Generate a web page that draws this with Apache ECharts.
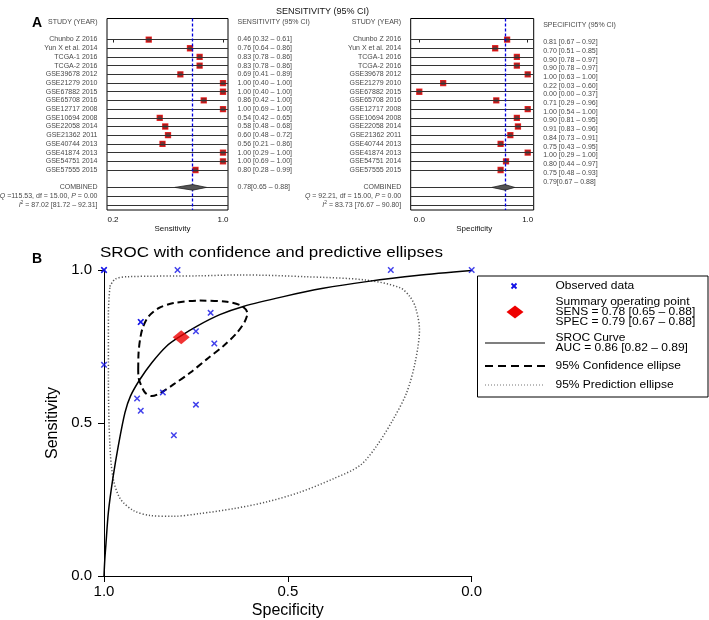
<!DOCTYPE html>
<html><head><meta charset="utf-8">
<script src="https://cdn.jsdelivr.net/npm/echarts@6/dist/echarts.min.js"></script>
<style>html,body{margin:0;padding:0;background:#fff}#c{width:709px;height:620px}</style>
</head><body><div id="c"></div>
<script>
// ---------------- DATA ----------------
const studies = ['Chunbo Z 2016','Yun X et al. 2014','TCGA-1 2016','TCGA-2 2016','GSE39678 2012','GSE21279 2010','GSE67882 2015','GSE65708 2016','GSE12717 2008','GSE10694 2008','GSE22058 2014','GSE21362 2011','GSE40744 2013','GSE41874 2013','GSE54751 2014','GSE57555 2015'];
const sens   = [0.46,0.76,0.83,0.83,0.69,1.00,1.00,0.86,1.00,0.54,0.58,0.60,0.56,1.00,1.00,0.80];
const sensLo = [0.32,0.64,0.78,0.78,0.41,0.40,0.40,0.42,0.69,0.42,0.48,0.48,0.21,0.29,0.69,0.28];
const sensHi = [0.61,0.86,0.86,0.86,0.89,1.00,1.00,1.00,1.00,0.65,0.68,0.72,0.86,1.00,1.00,0.99];
const spec   = [0.81,0.70,0.90,0.90,1.00,0.22,0.00,0.71,1.00,0.90,0.91,0.84,0.75,1.00,0.80,0.75];
const specLo = [0.67,0.51,0.78,0.78,0.63,0.03,0.00,0.29,0.54,0.81,0.83,0.73,0.43,0.29,0.44,0.48];
const specHi = [0.92,0.85,0.97,0.97,1.00,0.60,0.37,0.96,1.00,0.95,0.96,0.91,0.95,1.00,0.97,0.93];
const pooledSens = [0.78,0.65,0.88];
const pooledSpec = [0.79,0.67,0.88];
const sensQ  = [115.53,15.00,0.00];
const sensI2 = [87.02,81.72,92.31];
const specQ  = [92.21,15.00,0.00];
const specI2 = [83.73,76.67,90.80];
const auc    = [0.86,0.82,0.89];
const forestTicksSens = [0.2,1.0];
const forestTicksSpec = [0.0,1.0];
// SROC curve
const curveSpec = [1.000,0.998,0.995,0.988,0.976,0.961,0.943,0.928,0.902,0.870,0.830,0.793,0.748,0.685,0.621,0.512,0.404,0.286,0.150,0.000];
const curveSens = [0.000,0.050,0.100,0.209,0.318,0.426,0.534,0.588,0.643,0.697,0.751,0.783,0.816,0.854,0.881,0.913,0.940,0.962,0.982,0.998];
// 95% confidence ellipse
const confSpec = [0.907,0.906,0.902,0.895,0.879,0.852,0.811,0.739,0.666,0.626,0.610,0.617,0.639,0.676,0.721,0.766,0.811,0.848,0.870,0.888,0.900,0.906];
const confSens = [0.675,0.729,0.772,0.810,0.848,0.875,0.892,0.900,0.896,0.883,0.859,0.832,0.794,0.751,0.708,0.664,0.626,0.597,0.588,0.599,0.626,0.648];
// 95% prediction ellipse
const predSpec = [0.984,0.970,0.938,0.739,0.630,0.449,0.286,0.195,0.168,0.152,0.142,0.154,0.177,0.213,0.258,0.304,0.376,0.467,0.558,0.648,0.739,0.812,0.875,0.920,0.956,0.975,0.984,0.988,0.988];
const predSens = [0.946,0.970,0.978,0.981,0.984,0.978,0.967,0.942,0.913,0.875,0.805,0.697,0.599,0.513,0.426,0.361,0.318,0.274,0.242,0.220,0.204,0.195,0.198,0.214,0.253,0.318,0.426,0.643,0.859];

// ---------------- LAYOUT / HELPERS ----------------
const FONT = '"Liberation Sans", Arial, Helvetica, sans-serif';
const fx0 = {min:0.1564, max:1.0364};
const fx1 = {min:-0.0793, max:1.0553};
const rowMin = -2.42, rowMax = 19.6;
const headRow = -2, combRow = 17, qRow = 18, i2Row = 19;
const lineRows = studies.map((s,i)=>i).concat([combRow,qRow,i2Row]);
const BLUE = '#1010e6';
const SQ = 0.84; // vertical squash of text in panel B

function ciText(v,lo,hi,sep){ return v.toFixed(2)+sep+'['+lo.toFixed(2)+' – '+hi.toFixed(2)+']'; }
function qText(q){ return '{i|Q} ='+q[0].toFixed(2).padStart(6,' ')+', df = '+q[1].toFixed(2)+', {i|P} = '+q[2].toFixed(2); }
function i2Text(a){ return '{i|I}{s|2} = '+a[0].toFixed(2)+' ['+a[1].toFixed(2)+' – '+a[2].toFixed(2)+']'; }
function closeLoop(xs,ys){ const d = xs.map((x,i)=>[x,ys[i]]); d.push(d[0]); return d; }

const rich = {
  i:{fontStyle:'italic', fontSize:7, fontFamily:FONT, color:'#111'},
  s:{fontSize:5, fontFamily:FONT, color:'#111', padding:[0,0,4,0]}
};

function textSeries(gi, xval, items, pos, dist, offY){
  return {
    type:'scatter', xAxisIndex:gi, yAxisIndex:gi, symbolSize:1, clip:false, silent:true, z:5,
    itemStyle:{color:'rgba(0,0,0,0)'},
    data: items.map(it=>{ const o = {value:[xval,it[1]], name:it[0]}; if (it[2]!==undefined) o.label={offset:[0,it[2]]}; return o; }),
    label:{show:true, position:pos, distance:dist, formatter:p=>p.name, fontSize:7, color:'#111', fontFamily:FONT, offset:[0,offY], rich:rich}
  };
}

function forestSeries(gi, fx, vals, los, his, pooled, q, i2, header, rightOff, combOff){
  const left = [['STUDY (YEAR)',headRow]].concat(studies.map((s,i)=>[s,i]))
      .concat([['COMBINED',combRow],[qText(q),qRow],[i2Text(i2),i2Row]]);
  const right = [[header+' (95% CI)',headRow]].concat(vals.map((v,i)=>[ciText(v,los[i],his[i],' '),i]))
      .concat([[ciText(pooled[0],pooled[1],pooled[2],''),combRow,combOff]]);
  const sl = textSeries(gi, fx.min, left, 'left', 9, 0);
  sl.markLine = {silent:true, symbol:['none','none'], label:{show:false}, animation:false,
    lineStyle:{color:'#333', width:1, type:'solid'}, data: lineRows.map(r=>({yAxis:r}))};
  const sr = textSeries(gi, fx.max, right, 'right', 9, rightOff);
  const sq = {
    type:'scatter', xAxisIndex:gi, yAxisIndex:gi, symbol:'rect', symbolSize:5, z:4, silent:true,
    itemStyle:{color:'#5a0000', borderColor:'#e00000', borderWidth:1.3},
    data: vals.map((v,i)=>[v,i]),
    markLine:{silent:true, symbol:['none','none'], label:{show:false}, animation:false,
      lineStyle:{color:'#0000dd', width:1.3, type:[3,2]}, data:[{xAxis:pooled[0]}]}
  };
  const dm = {
    type:'custom', xAxisIndex:gi, yAxisIndex:gi, z:6, silent:true,
    data:[[pooled[1],pooled[0],pooled[2],combRow]],
    renderItem:(params,api)=>{
      const lo=api.value(0), est=api.value(1), hi=api.value(2), r=api.value(3);
      return {type:'polygon', shape:{points:[api.coord([lo,r]),api.coord([est,r-0.32]),api.coord([hi,r]),api.coord([est,r+0.32])]},
        style:{fill:'#555', stroke:'#222', lineWidth:0.8}};
    }
  };
  return [sl,sr,sq,dm];
}

function forestX(gi, fx, ticks, name, pad){
  return {gridIndex:gi, type:'value', min:fx.min, max:fx.max,
    axisLine:{show:false}, splitLine:{show:false},
    axisTick:{show:true, length:3, customValues:ticks, lineStyle:{color:'#222'}},
    axisLabel:{show:true, customValues:ticks, fontSize:8, color:'#111', fontFamily:FONT, margin:6, formatter:v=>v.toFixed(1)},
    name:name, nameLocation:'middle', nameGap:13, nameTextStyle:{fontSize:8, color:'#111', fontFamily:FONT, padding:pad}};
}
function forestY(gi){
  return {gridIndex:gi, type:'value', inverse:true, min:rowMin, max:rowMax, show:false};
}

// ---------------- CHART ----------------
const chart = echarts.init(document.getElementById('c'), null, {renderer:'canvas'});

const axisCommon = {
  type:'value', min:0, max:1, interval:0.5,
  axisLine:{show:true, onZero:false, lineStyle:{color:'#000', width:1}},
  axisTick:{show:true, length:6, lineStyle:{color:'#000', width:1}},
  splitLine:{show:false},
  nameLocation:'middle', nameTextStyle:{fontSize:16, color:'#000', fontFamily:FONT}
};

const XPATH = 'path://M0,1.6 L1.6,0 L5,3.4 L8.4,0 L10,1.6 L6.6,5 L10,8.4 L8.4,10 L5,6.6 L1.6,10 L0,8.4 L3.4,5 Z';

const series = []
  .concat(forestSeries(0, fx0, sens, sensLo, sensHi, pooledSens, sensQ, sensI2, 'SENSITIVITY', 0, 0))
  .concat(forestSeries(1, fx1, spec, specLo, specHi, pooledSpec, specQ, specI2, 'SPECIFICITY', 2.7, -5.7))
  .concat([
    {type:'line', xAxisIndex:2, yAxisIndex:2, data:closeLoop(predSpec,predSens), symbol:'none', smooth:0.3, silent:true, z:2,
      lineStyle:{color:'#555', width:1.5, type:[1.2,2]}},
    {type:'line', xAxisIndex:2, yAxisIndex:2, data:closeLoop(confSpec,confSens), symbol:'none', smooth:0.3, silent:true, z:3,
      lineStyle:{color:'#000', width:2, type:[7,4]}},
    {type:'line', xAxisIndex:2, yAxisIndex:2, data:curveSpec.map((x,i)=>[x,curveSens[i]]), symbol:'none', smooth:0.3, silent:true, z:3,
      lineStyle:{color:'#000', width:1.5}},
    {type:'scatter', xAxisIndex:2, yAxisIndex:2, data:spec.map((x,i)=>[x,sens[i]]), clip:false, silent:true, z:5,
      symbol:XPATH, symbolSize:6.5, itemStyle:{color:BLUE}},
    {type:'scatter', xAxisIndex:2, yAxisIndex:2, data:[[pooledSpec[0],pooledSens[0]]], silent:true, z:6,
      symbol:'diamond', symbolSize:[17,14], itemStyle:{color:'#ee0000'}}
  ]);

const legX = 477.5, legY = 276;
function legText(y, t){ return {type:'text', x:555.5, y:y, scaleY:SQ, z:11, style:{text:t, fontSize:12, fontFamily:FONT, fill:'#000', verticalAlign:'middle'}}; }
const graphic = [
  {type:'text', x:32, y:23, style:{text:'A', fontSize:14, fontWeight:'bold', fontFamily:FONT, fill:'#000', verticalAlign:'middle'}},
  {type:'text', x:322.5, y:12, style:{text:'SENSITIVITY (95% CI)', fontSize:9, fontFamily:FONT, fill:'#111', align:'center', verticalAlign:'middle'}},
  {type:'text', x:32, y:259, style:{text:'B', fontSize:14, fontWeight:'bold', fontFamily:FONT, fill:'#000', verticalAlign:'middle'}},
  {type:'text', x:100, y:253, scaleY:SQ, style:{text:'SROC with confidence and predictive ellipses', fontSize:17, fontFamily:FONT, fill:'#000', verticalAlign:'middle'}},
  // legend
  {type:'rect', shape:{x:legX, y:legY, width:230.5, height:121}, style:{fill:'#fff', stroke:'#000', lineWidth:1}, z:10},
  {type:'line', shape:{x1:511.5, y1:283.5, x2:516.5, y2:288.5}, style:{stroke:BLUE, lineWidth:1.8}, z:11},
  {type:'line', shape:{x1:516.5, y1:283.5, x2:511.5, y2:288.5}, style:{stroke:BLUE, lineWidth:1.8}, z:11},
  legText(286, 'Observed data'),
  {type:'polygon', shape:{points:[[506.5,312],[515,305.5],[523.5,312],[515,318.5]]}, style:{fill:'#ee0000'}, z:11},
  legText(302.7, 'Summary operating point'),
  legText(312.3, 'SENS = '+ciText(pooledSens[0],pooledSens[1],pooledSens[2],' ')),
  legText(322, 'SPEC = '+ciText(pooledSpec[0],pooledSpec[1],pooledSpec[2],' ')),
  {type:'line', shape:{x1:485, y1:343, x2:545, y2:343}, style:{stroke:'#000', lineWidth:1.2}, z:11},
  legText(338.3, 'SROC Curve'),
  legText(348.3, 'AUC = '+ciText(auc[0],auc[1],auc[2],' ')),
  {type:'line', shape:{x1:485, y1:366, x2:545, y2:366}, style:{stroke:'#000', lineWidth:2, lineDash:[8,5]}, z:11},
  legText(366, '95% Confidence ellipse'),
  {type:'line', shape:{x1:485, y1:385, x2:545, y2:385}, style:{stroke:'#777', lineWidth:1.2, lineDash:[1,2]}, z:11},
  legText(385, '95% Prediction ellipse')
];

chart.setOption({
  animation:false,
  backgroundColor:'#fff',
  textStyle:{fontFamily:FONT},
  grid:[
    {left:107, top:18.5, width:121, height:191.5, show:true, borderColor:'#000', borderWidth:1, backgroundColor:'transparent'},
    {left:410.7, top:18.5, width:123, height:191.5, show:true, borderColor:'#000', borderWidth:1, backgroundColor:'transparent'},
    {left:104, top:270, width:367.7, height:307.7}
  ],
  xAxis:[
    forestX(0, fx0, forestTicksSens, 'Sensitivity', [0,0,0,10]),
    forestX(1, fx1, forestTicksSpec, 'Specificity', [0,0,0,4]),
    Object.assign({}, axisCommon, {gridIndex:2, inverse:true, name:'Specificity', nameGap:27,
      axisLabel:{fontSize:15, color:'#000', fontFamily:FONT, margin:8, formatter:v=>v.toFixed(1)}})
  ],
  yAxis:[
    forestY(0), forestY(1),
    Object.assign({}, axisCommon, {gridIndex:2, name:'Sensitivity', nameGap:43,
      axisLabel:{fontSize:15, color:'#000', fontFamily:FONT, margin:12, formatter:v=>v.toFixed(1)}})
  ],
  series: series,
  graphic: graphic
});
</script>
</body></html>
